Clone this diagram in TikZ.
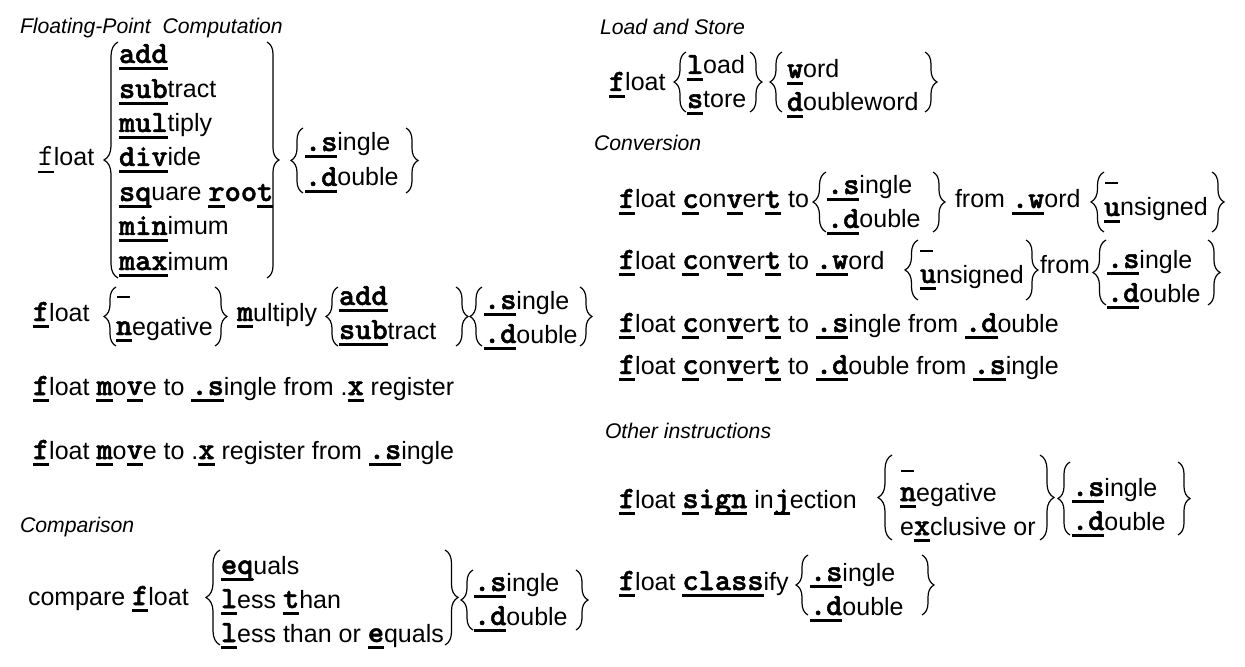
\documentclass[tikz,border=0pt]{standalone}
\usepackage{fontspec}
\setmainfont{Liberation Sans}
\newfontface\mbfont{lmmonolt10-bold.otf}[FakeBold=1.6]
\usetikzlibrary{decorations.pathreplacing}
\newcommand\mtt{\fontsize{30.9bp}{30bp}\mbfont}
\newcommand\mtr{\fontsize{30.9bp}{30bp}\selectfont\ttfamily}
\newcommand\ulm[1]{\setbox0=\hbox{\mtt #1}\rlap{\rule[-7bp]{\wd0}{2.6bp}}\box0\relax}
\newcommand\ulr[1]{\setbox0=\hbox{\mtr #1}\rlap{\rule[-7bp]{\wd0}{1.8bp}}\box0\relax}
\newcommand\bodyf{\fontsize{25bp}{30bp}\selectfont}
\newcommand\headf{\fontsize{21.2bp}{25bp}\selectfont\itshape}
\newcommand\dashbar{\rule{13bp}{2.2bp}}
\tikzset{
 txt/.style={anchor=base west,inner sep=0pt,outer sep=0pt,font=\bodyf},
 head/.style={anchor=base west,inner sep=0pt,outer sep=0pt,font=\headf},
 brc/.style={draw=black,line width=1.2bp,decorate,decoration={brace,amplitude=#1}},
 brc/.default=12bp
}
\newcommand\LB[4][12]{\draw[brc=#1bp] (#2,#4) -- (#2,#3);}
\newcommand\RB[4][12]{\draw[brc=#1bp] (#2,#3) -- (#2,#4);}
\begin{document}
\begin{tikzpicture}[x=1bp,y=-1bp]
\fill[white] (0,0) rectangle (1245,667);
\useasboundingbox (0,0) rectangle (1245,667);
% ---------- Floating-point computation
\node[head] (hA) at (20,34) {Floating-Point\ \ Computation};
\node[txt] (fA) at (38,166) {\ulr{f}loat};
\LB[14]{118}{42}{278}
\node[txt] (a1) at (119,63) {\ulm{add}};
\node[txt] (a2) at (119,98) {\ulm{sub}tract};
\node[txt] (a3) at (119,132) {\ulm{mul}tiply};
\node[txt] (a4) at (119,166) {\ulm{div}ide};
\node[txt] (a5) at (119,201) {\ulm{sq}uare \ulm{r}{\mtt oo}\ulm{t}};
\node[txt] (a6) at (119,235) {\ulm{min}imum};
\node[txt] (a7) at (119,270) {\ulm{max}imum};
\RB[12]{267}{42}{278}
\LB{303}{128}{193}
\node[txt] (aS) at (305,151) {\ulm{.s}ingle};
\node[txt] (aD) at (305,186) {\ulm{.d}ouble};
\RB{406}{128}{193}
% ---------- fused multiply-add
\node[txt] (fB) at (33,321) {\ulm{f}loat};
\LB{116}{287}{346}
\node[txt] (bdash) at (117,298) {\dashbar};
\node[txt] (bneg) at (116,335) {\ulm{n}egative};
\RB{215}{287}{346}
\node[txt] (bmul) at (237,321) {\ulm{m}ultiply};
\LB{338}{287}{346}
\node[txt] (badd) at (339,305) {\ulm{add}};
\node[txt] (bsub) at (339,339) {\ulm{sub}tract};
\RB{456}{287}{346}
\LB{482}{287}{346}
\node[txt] (bS) at (484,309) {\ulm{.s}ingle};
\node[txt] (bD) at (484,343) {\ulm{.d}ouble};
\RB{580}{287}{346}
% ---------- moves
\node[txt] (mv1) at (33,395) {\ulm{f}loat \ulm{m}o\ulm{v}e to \ulm{.s}ingle from .\ulm{x} register};
\node[txt] (mv2) at (33,459) {\ulm{f}loat \ulm{m}o\ulm{v}e to .\ulm{x} register from \ulm{.s}ingle};
% ---------- comparison
\node[head] (hC) at (20,532) {Comparison};
\node[txt] (cf) at (28,605) {compare \ulm{f}loat};
\LB[14]{220}{550}{645}
\node[txt] (c1) at (221,574) {\ulm{eq}uals};
\node[txt] (c2) at (221,608) {\ulm{l}ess \ulm{t}han};
\node[txt] (c3) at (221,642) {\ulm{l}ess than or \ulm{e}quals};
\RB[13]{445}{550}{645}
\LB{473}{570}{630}
\node[txt] (cS) at (474,591) {\ulm{.s}ingle};
\node[txt] (cD) at (474,625) {\ulm{.d}ouble};
\RB{576}{570}{630}
% ---------- load and store
\node[head] (hL) at (600,35) {Load and Store};
\node[txt] (fL) at (609,91) {\ulm{f}loat};
\LB{686}{52}{112}
\node[txt] (ld) at (687,74) {\ulm{l}oad};
\node[txt] (st) at (687,108) {\ulm{s}tore};
\RB{750}{52}{112}
\LB{782}{52}{112}
\node[txt] (wd) at (787,78) {\ulm{w}ord};
\node[txt] (dw) at (787,111) {\ulm{d}oubleword};
\RB{925}{52}{112}
% ---------- conversion
\node[head] (hV) at (594,151) {Conversion};
\node[txt] (cv1) at (619,208) {\ulm{f}loat \ulm{c}on\ulm{v}er\ulm{t} to};
\LB[13]{826}{172}{232}
\node[txt] (cv1s) at (827,194) {\ulm{.s}ingle};
\node[txt] (cv1d) at (827,228) {\ulm{.d}ouble};
\RB{933}{172}{232}
\node[txt] (cv1f) at (955,208) {from \ulm{.w}ord};
\LB[13]{1104}{172}{232}
\node[txt] (cv1z) at (1105,184) {\dashbar};
\node[txt] (cv1u) at (1104,216) {\ulm{u}nsigned};
\RB{1212}{172}{232}
\node[txt] (cv2) at (619,269) {\ulm{f}loat \ulm{c}on\ulm{v}er\ulm{t} to \ulm{.w}ord};
\LB[13]{918}{240}{300}
\node[txt] (cv2z) at (920,252) {\dashbar};
\node[txt] (cv2u) at (920,283) {\ulm{u}nsigned};
\RB{1026}{240}{300}
\node[txt] (cv2f) at (1040,273) {from};
\LB[13]{1106}{240}{305}
\node[txt] (cv2s) at (1107,268) {\ulm{.s}ingle};
\node[txt] (cv2d) at (1107,302) {\ulm{.d}ouble};
\RB{1208}{240}{305}
\node[txt] (cv3) at (619,332) {\ulm{f}loat \ulm{c}on\ulm{v}er\ulm{t} to \ulm{.s}ingle from \ulm{.d}ouble};
\node[txt] (cv4) at (619,374) {\ulm{f}loat \ulm{c}on\ulm{v}er\ulm{t} to \ulm{.d}ouble from \ulm{.s}ingle};
% ---------- other
\node[head] (hO) at (605,438) {Other instructions};
\node[txt] (sg) at (619,508) {\ulm{f}loat \ulm{s}{\mtt i}\ulm{gn} in\ulm{j}ection};
\LB[14]{892}{455}{540}
\node[txt] (sgz) at (901,472) {\dashbar};
\node[txt] (sgn) at (900,501) {\ulm{n}egative};
\node[txt] (sgx) at (900,535) {e\ulm{x}clusive or};
\RB[14]{1040}{455}{540}
\LB{1070}{462}{535}
\node[txt] (sgS) at (1072,496) {\ulm{.s}ingle};
\node[txt] (sgD) at (1072,530) {\ulm{.d}ouble};
\RB{1178}{462}{535}
\node[txt] (cl) at (619,590) {\ulm{f}loat \ulm{class}ify};
\LB{808}{555}{615}
\node[txt] (clS) at (810,581) {\ulm{.s}ingle};
\node[txt] (clD) at (810,615) {\ulm{.d}ouble};
\RB{922}{555}{615}
\end{tikzpicture}
\end{document}
